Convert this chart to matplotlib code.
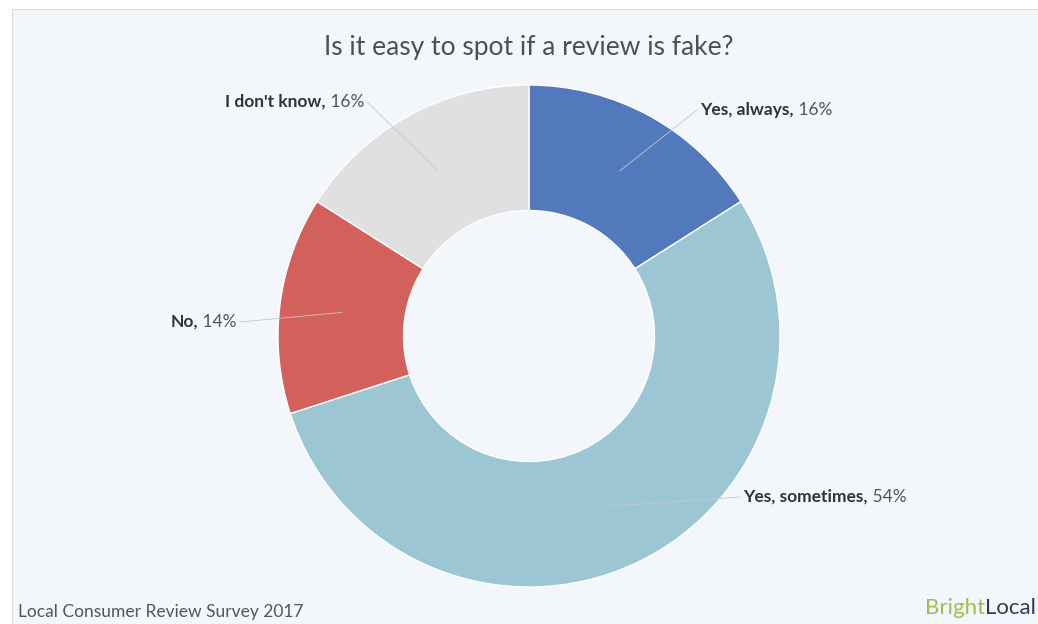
import numpy as np
import matplotlib
matplotlib.use("Agg")
import matplotlib.pyplot as plt
from matplotlib.patches import Rectangle

plt.rcParams["font.family"] = ["Lato", "DejaVu Sans"]

# survey answers, clockwise from 12 o'clock
answers = ["Yes, always", "Yes, sometimes", "No", "I don't know"]
shares = [16, 54, 14, 16]
colors = ["#5279bb", "#9dc6d5", "#d2605b", "#e0e0e0"]

W, H = 1038, 624
fig = plt.figure(figsize=(W / 100, H / 100), dpi=100, facecolor="white")
ax = fig.add_axes([0, 0, 1, 1])
ax.set_xlim(0, W)
ax.set_ylim(0, H)
ax.set_aspect("equal")
ax.axis("off")

# light card behind everything
ax.add_patch(Rectangle((12, -5), W, H - 9 + 5, facecolor="#f3f6fa",
                       edgecolor="#dcdcdc", linewidth=0.8, zorder=0))

cx, cy = 529, H - 336
R = 251
hole = 0.5
ax.pie(shares, colors=colors, startangle=90, counterclock=False,
       center=(cx, cy), radius=R, frame=True,
       wedgeprops=dict(width=R * (1 - hole), edgecolor="white", linewidth=1))
ax.set_xlim(0, W)
ax.set_ylim(0, H)
ax.axis("off")

# label text positions (x, y, side) and where the leader line meets the text
label_pos = {
    "Yes, always": (700, H - 110, "left"),
    "Yes, sometimes": (743, H - 497, "left"),
    "No": (237, H - 322, "right"),
    "I don't know": (364, H - 102, "right"),
}

r_mid = R * (1 + hole) / 2
cum = 0
for name, val in zip(answers, shares):
    mid = 90 - (cum + val / 2) / 100 * 360
    cum += val
    ax_x = cx + r_mid * np.cos(np.radians(mid))
    ax_y = cy + r_mid * np.sin(np.radians(mid))
    tx, ty, side = label_pos[name]
    pct = f" {val}%"
    if side == "left":
        t = ax.text(tx, ty, name + ",", fontsize=12.5, fontweight="bold",
                    color="#333333", ha="left", va="center", zorder=5)
        ax.annotate(pct, xy=(1, 0), xycoords=t, ha="left", va="bottom",
                    fontsize=12.5, color="#555555", zorder=5)
        lx = tx - 3
    else:
        t = ax.text(tx, ty, pct, fontsize=12.5, color="#555555",
                    ha="right", va="center", zorder=5)
        ax.annotate(name + ",", xy=(0, 0), xycoords=t, ha="right", va="bottom",
                    fontsize=12.5, fontweight="bold", color="#333333", zorder=5)
        lx = tx + 3
    ax.plot([ax_x, lx], [ax_y, ty], color="#c4c8cc", linewidth=0.6, zorder=4)

ax.text(529, H - 47, "Is it easy to spot if a review is fake?", fontsize=19,
        color="#505050", ha="center", va="center")
ax.text(18, H - 612, "Local Consumer Review Survey 2017", fontsize=12.5,
        color="#555555", ha="left", va="center")

# logo text in the bottom-right corner
loc = ax.text(1036, H - 608, "Local", fontsize=16, color="#2d3e50",
              ha="right", va="center")
ax.annotate("Bright", xy=(0, 0), xycoords=loc, ha="right", va="bottom",
            fontsize=16, color="#9bbf4a")

fig.savefig("out.png", dpi=100, facecolor="white")
